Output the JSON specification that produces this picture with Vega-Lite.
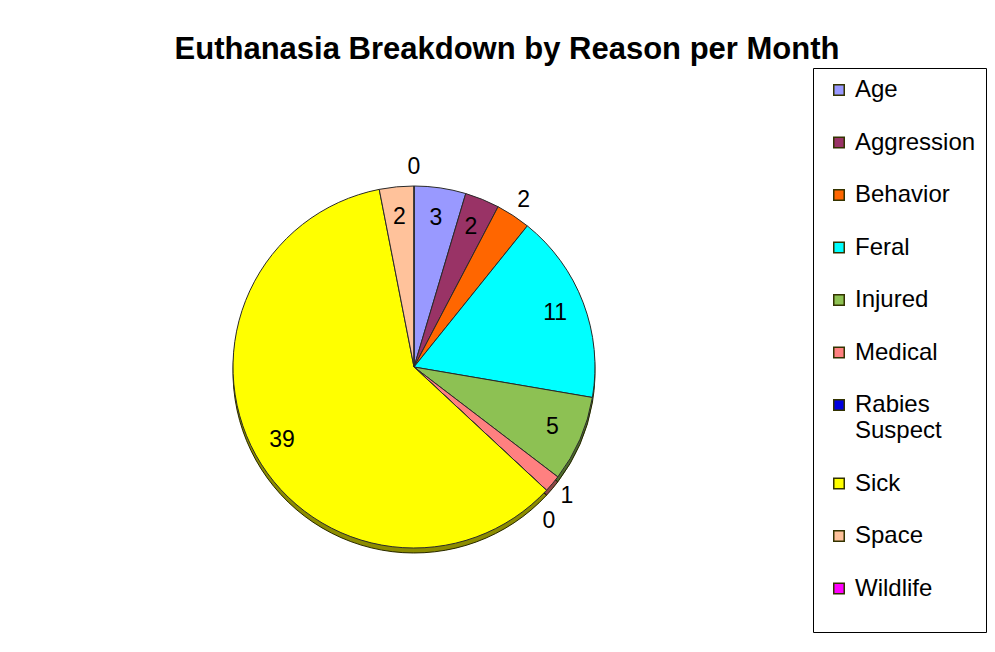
{
  "$schema": "https://vega.github.io/schema/vega-lite/v6.json",
  "autosize": "none",
  "width": 700,
  "height": 570,
  "padding": {"left": 64, "top": 82, "right": 231, "bottom": 0},
  "background": "white",
  "view": {"stroke": null},
  "title": {
    "text": "Euthanasia Breakdown by Reason per Month",
    "font": "Liberation Sans",
    "fontSize": 31,
    "fontWeight": "bold",
    "color": "#000000",
    "anchor": "middle",
    "dx": 93,
    "offset": 2
  },
  "data": {
    "values": [
      {"Reason": "Age", "Count": 3},
      {"Reason": "Aggression", "Count": 2},
      {"Reason": "Behavior", "Count": 2},
      {"Reason": "Feral", "Count": 11},
      {"Reason": "Injured", "Count": 5},
      {"Reason": "Medical", "Count": 1},
      {"Reason": "Rabies Suspect", "Count": 0},
      {"Reason": "Sick", "Count": 39},
      {"Reason": "Space", "Count": 2},
      {"Reason": "Wildlife", "Count": 0}
    ]
  },
  "layer": [
    {
      "mark": {"type": "arc", "outerRadius": 181, "yOffset": 5, "stroke": "#333300", "strokeWidth": 1},
      "encoding": {
        "theta": {"field": "Count", "type": "quantitative", "stack": true},
        "order": {"field": "Reason", "type": "ordinal"},
        "color": {"field": "Reason", "type": "nominal"}
      }
    },
    {
      "mark": {"type": "arc", "outerRadius": 181, "yOffset": 5, "fill": "#000000", "fillOpacity": 0.45},
      "encoding": {
        "theta": {"field": "Count", "type": "quantitative", "stack": true},
        "order": {"field": "Reason", "type": "ordinal"}
      }
    },
    {
      "mark": {"type": "arc", "outerRadius": 181, "stroke": "#2a2a2a", "strokeWidth": 1},
      "encoding": {
        "theta": {"field": "Count", "type": "quantitative", "stack": true},
        "order": {"field": "Reason", "type": "ordinal"},
        "color": {
          "field": "Reason",
          "type": "nominal",
          "scale": {
            "domain": ["Age", "Aggression", "Behavior", "Feral", "Injured", "Medical", "Rabies Suspect", "Sick", "Space", "Wildlife"],
            "range": ["#9999FF", "#993366", "#FF6600", "#00FFFF", "#8DC153", "#FF8080", "#0000E0", "#FFFF00", "#FFC29B", "#FF00FF"]
          },
          "legend": {
            "orient": "none",
            "legendX": 749,
            "legendY": -14,
            "title": " ",
            "titleOrient": "bottom",
            "titleFontSize": 14,
            "titlePadding": 7,
            "strokeColor": "#000000",
            "fillColor": "#ffffff",
            "padding": 10,
            "rowPadding": 28.5,
            "symbolOffset": 4,
            "symbolType": "square",
            "symbolSize": 110,
            "symbolStrokeColor": "#000000",
            "symbolStrokeWidth": 1.5,
            "labelFont": "Liberation Sans",
            "labelFontSize": 24,
            "labelColor": "#000000",
            "labelOffset": 4,
            "labelLimit": 300,
            "labelExpr": "datum.label == 'Rabies Suspect' ? ['Rabies', 'Suspect'] : datum.label"
          }
        }
      }
    },
    {
      "mark": {"type": "text", "radius": 151, "font": "Liberation Sans", "fontSize": 23, "color": "#000000"},
      "encoding": {
        "theta": {"field": "Count", "type": "quantitative", "stack": true},
        "order": {"field": "Reason", "type": "ordinal"},
        "text": {
          "condition": {"test": "indexof(['Age','Aggression','Feral','Injured','Sick','Space'], datum.Reason) >= 0", "field": "Count", "type": "quantitative"},
          "value": ""
        }
      }
    },
    {
      "mark": {"type": "text", "radius": 200, "font": "Liberation Sans", "fontSize": 23, "color": "#000000"},
      "encoding": {
        "theta": {"field": "Count", "type": "quantitative", "stack": true},
        "order": {"field": "Reason", "type": "ordinal"},
        "text": {
          "condition": {"test": "indexof(['Behavior','Wildlife','Medical'], datum.Reason) >= 0", "field": "Count", "type": "quantitative"},
          "value": ""
        }
      }
    },
    {
      "mark": {"type": "text", "radius": 205, "thetaOffset": 0.103, "font": "Liberation Sans", "fontSize": 23, "color": "#000000"},
      "encoding": {
        "theta": {"field": "Count", "type": "quantitative", "stack": true},
        "order": {"field": "Reason", "type": "ordinal"},
        "text": {
          "condition": {"test": "datum.Reason == 'Rabies Suspect'", "field": "Count", "type": "quantitative"},
          "value": ""
        }
      }
    }
  ]
}
